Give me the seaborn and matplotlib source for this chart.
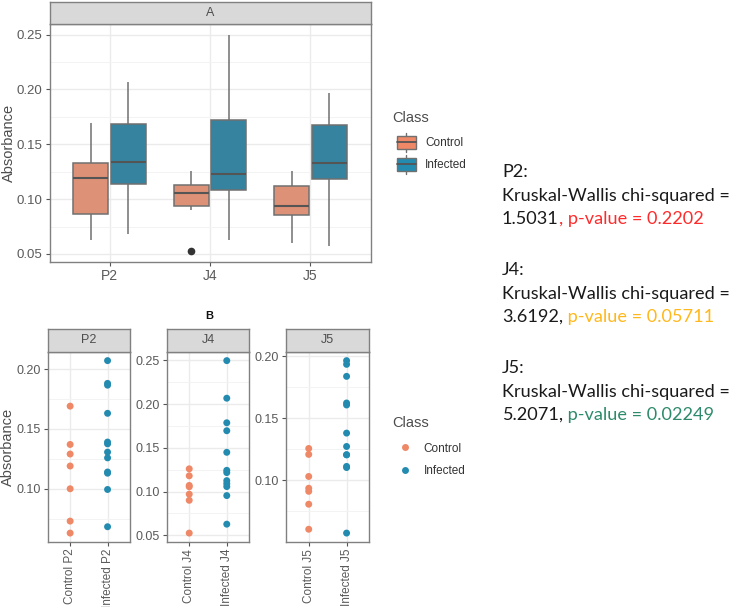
import numpy as np
import pandas as pd
import matplotlib
matplotlib.use("Agg")
import matplotlib.pyplot as plt
import seaborn as sns
from matplotlib.patches import Patch, Rectangle
from matplotlib.lines import Line2D
from matplotlib.legend_handler import HandlerBase
from matplotlib.ticker import MultipleLocator

# data
groups = ["P2", "J4", "J5"]
classes = ["Control", "Infected"]
control_p2 = [0.169, 0.137, 0.129, 0.119, 0.100, 0.073, 0.063]
infected_p2 = [0.207, 0.188, 0.1865, 0.163, 0.139, 0.1375, 0.1306, 0.1258, 0.114, 0.113, 0.0994, 0.0683]
control_j4 = [0.126, 0.118, 0.107, 0.1055, 0.097, 0.090, 0.0525]
infected_j4 = [0.2498, 0.2068, 0.1787, 0.1696, 0.1449, 0.1243, 0.1217, 0.1125, 0.1091, 0.1057, 0.0954, 0.0627]
control_j5 = [0.1256, 0.1208, 0.103, 0.0935, 0.091, 0.0806, 0.0604]
infected_j5 = [0.1965, 0.1935, 0.1838, 0.1623, 0.1607, 0.138, 0.1272, 0.1205, 0.1205, 0.1111, 0.1102, 0.0573]

stats_lines = [
    ("P2:", "1.5031", ", p-value = 0.2202", "#FF2B2B"),
    ("J4:", "3.6192,", " p-value = 0.05711", "#FFB81C"),
    ("J5:", "5.2071,", " p-value = 0.02249", "#2E8A6C"),
]

values = {
    ("P2", "Control"): control_p2, ("P2", "Infected"): infected_p2,
    ("J4", "Control"): control_j4, ("J4", "Infected"): infected_j4,
    ("J5", "Control"): control_j5, ("J5", "Infected"): infected_j5,
}
rows = []
for (g, c), vals in values.items():
    for v in vals:
        rows.append({"Group": g, "Class": c, "Absorbance": v, "Label": f"{c} {g}"})
df = pd.DataFrame(rows)

sns.set_theme(style="white")
plt.rcParams["font.family"] = ["Liberation Sans", "DejaVu Sans"]

palette = {"Control": "#EE8866", "Infected": "#248BB0"}
GREY_TXT = "#5A5A5A"
BORDER = "#808080"
EDGE = "#707070"

W, H = 734, 607
fig = plt.figure(figsize=(W / 100, H / 100), dpi=100)


def px_box(x0, y0, x1, y1):
    return [x0 / W, 1 - y1 / H, (x1 - x0) / W, (y1 - y0) / H]


def style_panel(ax, major, minor, size=9.5):
    ax.yaxis.set_major_locator(MultipleLocator(major))
    ax.yaxis.set_minor_locator(MultipleLocator(minor))
    ax.grid(which="major", color="#EBEBEB", lw=1.0)
    ax.grid(which="minor", axis="y", color="#F3F3F3", lw=0.7)
    ax.set_axisbelow(True)
    ax.tick_params(which="major", length=3, width=0.8, color="#555555",
                   labelsize=size, labelcolor=GREY_TXT, pad=2, left=True, bottom=True)
    ax.tick_params(which="minor", length=0)
    for s in ax.spines.values():
        s.set_color(BORDER)
        s.set_linewidth(1.0)
    ax.set_xlabel("")
    ax.set_ylabel("")


def strip(box, label):
    sax = fig.add_axes(box)
    sax.set_facecolor("#D9D9D9")
    sax.set_xticks([])
    sax.set_yticks([])
    for s in sax.spines.values():
        s.set_color(BORDER)
        s.set_linewidth(1.0)
    sax.text(0.5, 0.5, label, ha="center", va="center", fontsize=9, color="#4D4D4D",
             transform=sax.transAxes)


def padded(vals):
    lo, hi = min(vals), max(vals)
    pad = 0.05 * (hi - lo)
    return lo - pad, hi + pad


class BoxKey(HandlerBase):
    # little box-and-whisker glyph like the ggplot legend key
    def create_artists(self, legend, orig, xd, yd, w, h, fs, trans):
        x0, y0 = -xd, -yd
        box = Rectangle((x0, y0 + 0.12 * h), w, 0.76 * h, facecolor=orig.get_facecolor(),
                        edgecolor=EDGE, lw=1.0, transform=trans)
        med = Line2D([x0, x0 + w], [y0 + h / 2] * 2, color="#555555", lw=1.3, transform=trans)
        lo = Line2D([x0 + w / 2] * 2, [y0 - 0.05 * h, y0 + 0.12 * h], color=EDGE, lw=1.0,
                    transform=trans)
        hi = Line2D([x0 + w / 2] * 2, [y0 + 0.88 * h, y0 + 1.05 * h], color=EDGE, lw=1.0,
                    transform=trans)
        return [box, med, lo, hi]


def legend_title(y):
    fig.text(392 / W, 1 - y / H, "Class", ha="left", va="center", fontsize=10.5,
             color="#4D4D4D")


# ---- panel A: boxplots
ax = fig.add_axes(px_box(49.5, 24, 370.5, 262))
sns.boxplot(data=df, x="Group", y="Absorbance", hue="Class", order=groups, hue_order=classes,
            palette=palette, width=0.75, gap=0.07, linewidth=1.1, linecolor=EDGE,
            showcaps=False, legend=False, ax=ax,
            medianprops=dict(color="#555555", linewidth=1.5),
            flierprops=dict(marker="o", markersize=4.5, markerfacecolor="#333333",
                            markeredgecolor="#333333"))
ax.set_xlim(-0.6, 2.6)
ax.set_ylim(*padded(df["Absorbance"]))
style_panel(ax, 0.05, 0.025)
ax.tick_params(axis="x", labelsize=10)
strip(px_box(49.5, 2, 370.5, 24), "A")
fig.text(9 / W, 1 - 143 / H, "Absorbance", rotation=90, ha="center", va="center",
         fontsize=10.5, color="#4D4D4D")

legend_title(118)
handles = [Patch(facecolor=palette[c]) for c in classes]
leg = fig.legend(handles, classes, loc="upper left",
                 bbox_to_anchor=(386 / W, 1 - 123 / H), frameon=False, fontsize=8.5,
                 handlelength=1.6, handleheight=1.9, labelspacing=0.38,
                 handler_map={Patch: BoxKey()})
for t in leg.get_texts():
    t.set_color("#333333")

# ---- panel B: dot plots per group
fig.text(209 / W, 1 - 316 / H, "B", ha="center", va="center", fontsize=8, fontweight="bold",
         color="#111111")
panel_x = [(47.7, 130.0), (166.7, 249.3), (286.0, 369.3)]
for g, (x0, x1) in zip(groups, panel_x):
    sub = df[df["Group"] == g]
    bax = fig.add_axes(px_box(x0, 352, x1, 541.7))
    sns.stripplot(data=sub, x="Label", y="Absorbance", hue="Class", hue_order=classes,
                  order=[f"{c} {g}" for c in classes], palette=palette, jitter=False,
                  size=5, linewidth=0, legend=False, ax=bax)
    bax.set_xlim(-0.6, 1.6)
    bax.set_ylim(*padded(sub["Absorbance"]))
    style_panel(bax, 0.05, 0.025, size=9)
    bax.tick_params(axis="x", labelrotation=90, labelsize=8.5)
    strip(px_box(x0, 329, x1, 352), g)

fig.text(8 / W, 1 - 447 / H, "Absorbance", rotation=90, ha="center", va="center",
         fontsize=10.5, color="#4D4D4D")

legend_title(423)
dot_handles = [Line2D([], [], marker="o", ls="", markersize=5, markerfacecolor=palette[c],
                      markeredgewidth=0) for c in classes]
leg2 = fig.legend(dot_handles, classes, loc="upper left",
                  bbox_to_anchor=(386 / W, 1 - 432 / H), frameon=False, fontsize=8.5,
                  handlelength=1.5, labelspacing=0.85)
for t in leg2.get_texts():
    t.set_color("#333333")

# ---- test results text on the right
tax = fig.add_axes([0, 0, 1, 1])
tax.axis("off")
tax.set_xlim(0, W)
tax.set_ylim(H, 0)
font_kw = dict(fontsize=13.1, family=["Lato", "DejaVu Sans"], color="#1A1A1A")
for i, (name, stat, pv, col) in enumerate(stats_lines):
    y0 = 172 + i * 98
    tax.text(502, y0, name, va="center", ha="left", **font_kw)
    tax.text(502, y0 + 24, "Kruskal-Wallis chi-squared =", va="center", ha="left", **font_kw)
    t1 = tax.text(502, y0 + 47, stat, va="center", ha="left", **font_kw)
    kw = dict(font_kw)
    kw["color"] = col
    tax.annotate(pv, xy=(1, 0), xycoords=t1, va="bottom", ha="left", **kw)

fig.savefig("out.png", dpi=100)
